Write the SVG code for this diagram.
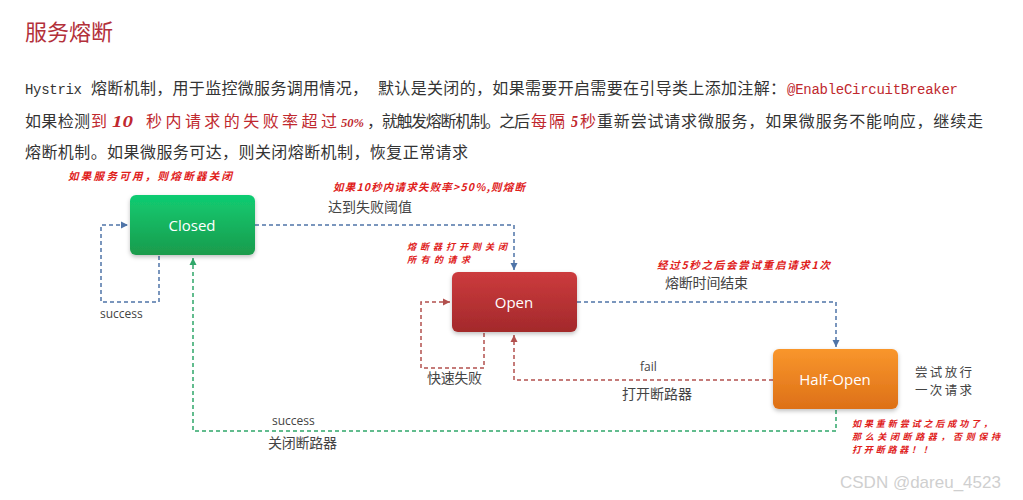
<svg xmlns="http://www.w3.org/2000/svg" width="1023" height="500" viewBox="0 0 1023 500">
<style>
.body{font-family:"Noto Sans CJK SC","Liberation Serif",serif;font-size:16px;fill:#333}
.mono{font-family:"Liberation Mono",monospace;font-size:14px}
.red{fill:#c0282e}
.num{font-family:"Liberation Serif",serif;font-style:italic;font-weight:bold;font-size:16px;fill:#c0282e}
.note{font-family:"Noto Sans CJK SC",sans-serif;font-weight:bold;font-style:italic;font-size:10.5px;fill:#e0201a}
.note2{font-family:"Noto Sans CJK SC",sans-serif;font-weight:bold;font-style:italic;font-size:9px;fill:#e0201a}
.lbl{font-family:"Noto Sans CJK SC","Liberation Serif",serif;font-size:14px;fill:#444}
.lbl2{font-family:"Noto Sans CJK SC","Liberation Serif",serif;font-size:12.5px;fill:#444}
.en{font-family:"Open Sans","Liberation Sans",sans-serif;font-size:12px;fill:#444}
.node{font-family:"Open Sans","Liberation Sans",sans-serif;font-size:15px;fill:#fff;text-anchor:middle}
.blue{fill:none;stroke:#4f74a8;stroke-width:1.5;stroke-dasharray:4 3}
.rd{fill:none;stroke:#b2504e;stroke-width:1.5;stroke-dasharray:4 3}
.gr{fill:none;stroke:#2fa769;stroke-width:1.5;stroke-dasharray:4 3}
</style>
<defs>
<linearGradient id="gG" x1="0" y1="0" x2="0" y2="1"><stop offset="0" stop-color="#10cc72"/><stop offset="1" stop-color="#1b9b4c"/></linearGradient>
<linearGradient id="gR" x1="0" y1="0" x2="0" y2="1"><stop offset="0" stop-color="#cc3b3d"/><stop offset="1" stop-color="#a3292b"/></linearGradient>
<linearGradient id="gO" x1="0" y1="0" x2="0" y2="1"><stop offset="0" stop-color="#f9962c"/><stop offset="1" stop-color="#dd7017"/></linearGradient>
<filter id="sh" x="-10%" y="-10%" width="120%" height="130%"><feDropShadow dx="0" dy="2" stdDeviation="2" flood-color="#000" flood-opacity="0.25"/></filter>
<marker id="mB" markerWidth="8" markerHeight="8" refX="7" refY="4" orient="auto" markerUnits="userSpaceOnUse"><path d="M0,0.5 L7,4 L0,7.5 Z" fill="#4f74a8"/></marker>
<marker id="mR" markerWidth="8" markerHeight="8" refX="7" refY="4" orient="auto" markerUnits="userSpaceOnUse"><path d="M0,0.5 L7,4 L0,7.5 Z" fill="#b2504e"/></marker>
<marker id="mG" markerWidth="8" markerHeight="8" refX="7" refY="4" orient="auto" markerUnits="userSpaceOnUse"><path d="M0,0.5 L7,4 L0,7.5 Z" fill="#2fa769"/></marker>
</defs>
<rect width="1023" height="500" fill="#fff"/>

<text x="25" y="40" style="font-family:'Noto Sans CJK SC',serif;font-size:22px;fill:#b3303a">服务熔断</text>

<text class="body" y="94"><tspan class="mono" x="25" textLength="57">Hystrix</tspan><tspan x="91" textLength="277">熔断机制，用于监控微服务调用情况，</tspan><tspan x="378" textLength="408">默认是关闭的，如果需要开启需要在引导类上添加注解：</tspan><tspan class="mono red" x="787" textLength="171">@EnableCircuitBreaker</tspan></text>

<text class="body" y="127"><tspan x="25" textLength="65">如果检测</tspan><tspan class="red" x="91" textLength="16">到</tspan><tspan class="num" x="112" textLength="21" lengthAdjust="spacingAndGlyphs">10</tspan><tspan class="red" x="146" textLength="191">秒内请求的失败率超过</tspan><tspan class="num" x="341" style="font-size:13px" textLength="23" lengthAdjust="spacingAndGlyphs">50%</tspan><tspan x="367" textLength="163">，就触发熔断机制。之后</tspan><tspan class="red" x="531" textLength="34">每隔</tspan><tspan class="num" x="571" textLength="7" lengthAdjust="spacingAndGlyphs">5</tspan><tspan class="red" x="580" textLength="16">秒</tspan><tspan x="597" textLength="386">重新尝试请求微服务，如果微服务不能响应，继续走</tspan></text>

<text class="body" x="25" y="158" textLength="443">熔断机制。如果微服务可达，则关闭熔断机制，恢复正常请求</text>

<g id="connectors">
<path class="blue" d="M255,225 H514 V270" marker-end="url(#mB)"/>
<path class="blue" d="M159,256 V302 H101 V225 H128" marker-end="url(#mB)"/>
<path class="rd" d="M484,333 V368 H421 V302 H450" marker-end="url(#mR)"/>
<path class="blue" d="M577,302 H836 V347" marker-end="url(#mB)"/>
<path class="rd" d="M773,380 H514 V335" marker-end="url(#mR)"/>
<path class="gr" d="M836,410 V431 H193 V258" marker-end="url(#mG)"/>
</g>

<g id="closed">
<rect x="130" y="195" width="125" height="60" rx="6" fill="url(#gG)" filter="url(#sh)"/>
<text class="node" x="192" y="231">Closed</text>
</g>
<g id="open">
<rect x="452" y="272" width="125" height="60" rx="6" fill="url(#gR)" filter="url(#sh)"/>
<text class="node" x="514" y="308">Open</text>
</g>
<g id="half-open">
<rect x="773" y="349" width="125" height="60" rx="6" fill="url(#gO)" filter="url(#sh)"/>
<text class="node" x="835" y="385">Half-Open</text>
</g>

<g id="labels">
<text class="lbl" x="328" y="212" textLength="84">达到失败阈值</text>
<text class="lbl" x="665" y="288" textLength="83">熔断时间结束</text>
<text class="lbl" x="427" y="383" textLength="55">快速失败</text>
<text class="en" x="640" y="371">fail</text>
<text class="lbl" x="622" y="399" textLength="70">打开断路器</text>
<text class="en" x="100" y="318">success</text>
<text class="en" x="272" y="425">success</text>
<text class="lbl" x="268" y="448" textLength="69">关闭断路器</text>
<text class="lbl2" x="915" y="377" textLength="57">尝试放行</text>
<text class="lbl2" x="915" y="395" textLength="57">一次请求</text>
</g>

<g id="notes">
<text class="note" x="68" y="180" textLength="164">如果服务可用，则熔断器关闭</text>
<text class="note" x="333" y="191" textLength="192">如果10秒内请求失败率&gt;50%,则熔断</text>
<text class="note2" x="407" y="250" textLength="100">熔断器打开则关闭</text>
<text class="note2" x="407" y="263" textLength="63">所有的请求</text>
<text class="note" x="657" y="269" textLength="173">经过5秒之后会尝试重启请求1次</text>
<text class="note2" x="852" y="427" textLength="140">如果重新尝试之后成功了，</text>
<text class="note2" x="852" y="440" textLength="148">那么关闭断路器，否则保持</text>
<text class="note2" x="852" y="453" textLength="80">打开断路器！！</text>
</g>

<text x="840" y="488" style="font-family:'Liberation Sans',sans-serif;font-size:17px;fill:#cfcfcf">CSDN @dareu_4523</text>
</svg>
